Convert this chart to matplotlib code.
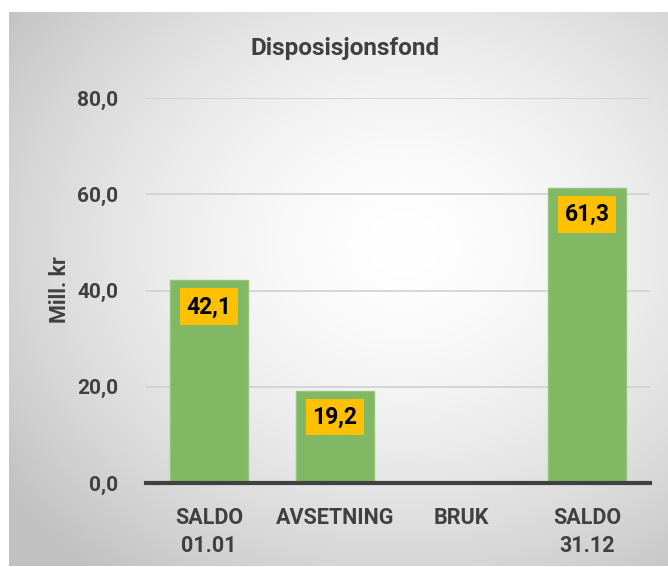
import numpy as np
import matplotlib.pyplot as plt

# data
categories = ['SALDO\n01.01', 'AVSETNING', 'BRUK', 'SALDO\n31.12']
values = [42.1, 19.2, 0.0, 61.3]
value_labels = ['42,1', '19,2', '', '61,3']
yticks = [0, 20, 40, 60, 80]

plt.rcParams['font.family'] = ['Roboto', 'DejaVu Sans']
txt_col = '#404040'

W, H = 668, 567
fig = plt.figure(figsize=(W / 100, H / 100), dpi=100)

# radial gradient background for the chart area
bg = fig.add_axes([9 / W, 1 / H, 1 - 9 / W, (566 - 12) / H], zorder=-2)
yy, xx = np.mgrid[0:1:300j, 0:1:360j]
cx, cy = 0.6, 0.42
d = np.sqrt(((xx - cx) / 0.75) ** 2 + ((yy - cy) / 0.75) ** 2)
d = np.clip(d, 0, 1)
shade = 1.0 - 0.24 * d ** 1.6
bg.imshow(np.dstack([shade] * 3), aspect='auto', extent=[0, 1, 1, 0], interpolation='bicubic')
bg.set_axis_off()

ax = fig.add_axes([146 / W, 1 - 483 / H, 504 / W, 385 / H])
ax.patch.set_alpha(0)

x = np.arange(len(categories))
bars = ax.bar(x, values, width=0.62, color='#80b863', edgecolor='#95c67c', linewidth=1, zorder=3)

for xi, v, lab in zip(x, values, value_labels):
    if not lab:
        continue
    ax.annotate(lab, xy=(xi, v), xytext=(0, -19), textcoords='offset points',
                ha='center', va='center', fontsize=16.5, fontweight='bold', color='black',
                bbox=dict(boxstyle='square,pad=0.3', fc='#ffc000', ec='none'), zorder=5)

ax.set_xlim(-0.5, len(categories) - 0.5)
ax.set_ylim(0, 80)
ax.set_yticks(yticks)
ax.set_yticklabels([f'{t:.1f}'.replace('.', ',') for t in yticks])
ax.set_xticks(x)
ax.set_xticklabels(categories, linespacing=1.35)
ax.tick_params(axis='y', length=0, pad=20, labelsize=15, labelcolor=txt_col)
ax.tick_params(axis='x', length=0, pad=17, labelsize=15.5, labelcolor=txt_col)
for t in ax.get_xticklabels() + ax.get_yticklabels():
    t.set_fontweight('bold')

ax.grid(axis='y', color='#d0d0d0', linewidth=1.2, zorder=0)
for s in ['top', 'right', 'left']:
    ax.spines[s].set_visible(False)
ax.spines['bottom'].set_color(txt_col)
ax.spines['bottom'].set_linewidth(3)
ax.spines['bottom'].set_zorder(4)

fig.text(60 / W, 1 - 290 / H, 'Mill. kr', rotation=90, ha='center', va='center',
         fontsize=15.5, fontweight='bold', color=txt_col)
fig.text(345 / W, 1 - 48 / H, 'Disposisjonsfond', ha='center', va='center',
         fontsize=17.5, fontweight='bold', color=txt_col)

fig.savefig('out.png', dpi=100)
